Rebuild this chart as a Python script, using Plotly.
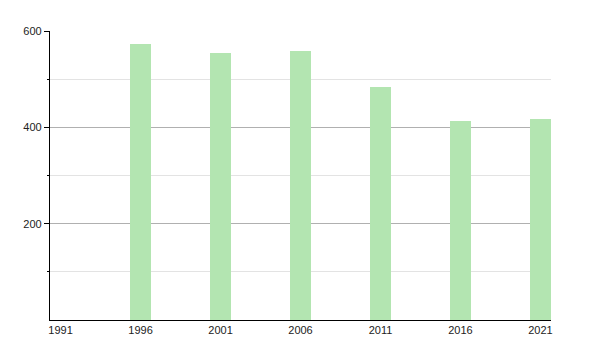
import plotly.graph_objects as go

years = [1991, 1996, 2001, 2006, 2011, 2016, 2021]
values = [None, 574, 554, 558, 483, 413, 417]
y_ticks = [200, 400, 600]

fig = go.Figure()
fig.add_trace(go.Bar(
    x=years, y=values, width=1.3,
    marker=dict(color="#b3e5b1", line=dict(width=0)),
    hoverinfo="x+y",
))
fig.update_layout(
    width=600, height=350,
    margin=dict(l=50, r=49, t=31, b=30),
    paper_bgcolor="white", plot_bgcolor="white",
    showlegend=False,
    font=dict(family="Liberation Sans, Arial, sans-serif", size=11, color="#222"),
    bargap=0,
)
fig.update_xaxes(
    range=[1990.34, 2021.66], tickmode="array", tickvals=years,
    ticktext=[str(y) for y in years],
    tickfont=dict(color="#222"),
    showline=True, linecolor="black", linewidth=1.2,
    ticks="", showgrid=False, zeroline=False,
)
fig.update_yaxes(
    range=[0, 600], tickmode="array", tickvals=y_ticks,
    tickfont=dict(color="#222"),
    showline=True, linecolor="black", linewidth=1.2,
    ticks="outside", ticklen=5, tickcolor="black",
    showgrid=True, gridcolor="#b0b0b0", gridwidth=1,
    zeroline=False,
    minor=dict(tickvals=[100, 300, 500], ticks="outside", ticklen=2,
               tickcolor="black", showgrid=True, gridcolor="#e3e3e3", gridwidth=1),
)
fig.write_html("out.html")
